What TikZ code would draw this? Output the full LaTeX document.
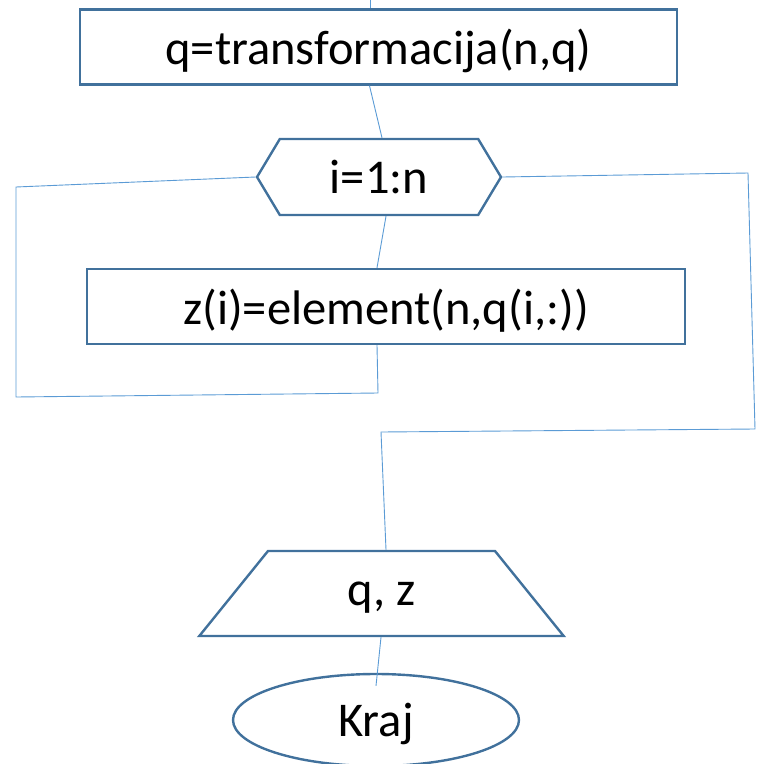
\documentclass[tikz,border=0pt]{standalone}
\usepackage{fontspec}
\setmainfont{Carlito}
\usetikzlibrary{shapes.geometric,shapes.symbols}

\definecolor{rub}{RGB}{65,113,156}
\definecolor{veza}{RGB}{91,155,213}

\begin{document}
\begin{tikzpicture}[x=1pt,y=-1pt,
		blok/.style={draw=rub,line width=2.4pt,inner sep=0pt,text depth=0pt,font=\fontsize{48.5}{54}\selectfont},
		okvir/.style={blok,rectangle,minimum width=#1,minimum height=75pt},
		linija/.style={draw=veza,line width=0.9pt}]

		\useasboundingbox (0,0) rectangle (760,764);

		\node (transf) at (378.5,47) [okvir=597pt] {q=transformacija(n,q)};
		\node (petlja) at (379,177) [blok,signal,signal to=west and east,signal pointer angle=118,minimum width=244pt,minimum height=76pt] {i=1:n};
		\node (elem) at (386,306.5) [okvir=598pt] {z(i)=element(n,q(i,:))};
		\node (izlaz) at (381.5,593.5) [blok,trapezium,trapezium stretches=true,trapezium left angle=49,trapezium right angle=49,minimum width=365pt,minimum height=85pt] {q, z};
		\node (kraj) at (376,720) [blok,ellipse,minimum width=286pt,minimum height=92pt] {Kraj};

		\coordinate (start) at (370,0);

		\draw[linija] (start) -- (start |- transf.north);
		\draw[linija] ([xshift=-9pt]transf.south) -- ([xshift=3pt]petlja.north);
		\draw[linija] ([xshift=7pt]petlja.south) -- ([xshift=-9pt]elem.north);

		\draw[linija] (petlja.west) -- (16,187) -- (16,397) -- (378,393) -- ([xshift=-9pt]elem.south);
		\draw[linija] (petlja.east) -- (748,173) -- (755,429) -- (381,432) -- ([xshift=4.5pt]izlaz.north);

		\draw[linija] ([xshift=-0.5pt]izlaz.south) -- ([yshift=-13pt]kraj.north);

\end{tikzpicture}
\end{document}
